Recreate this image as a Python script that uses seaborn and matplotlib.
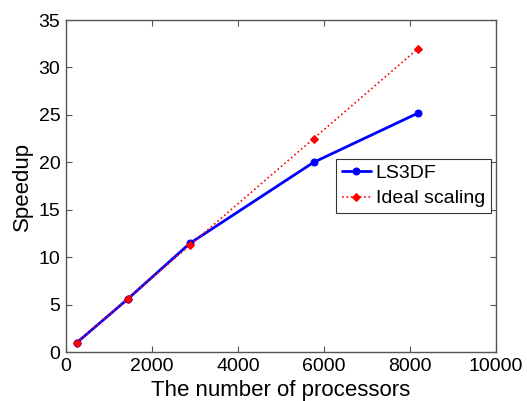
import pandas as pd
import numpy as np
import matplotlib
matplotlib.use("Agg")
import matplotlib.pyplot as plt
import seaborn as sns

# data
procs = [256, 1440, 2880, 5760, 8192]
ls3df = [1.0, 5.6, 11.45, 20.0, 25.2]
ideal = [1.0, 5.625, 11.25, 22.5, 32.0]

df = pd.DataFrame({"procs": procs, "LS3DF": ls3df, "Ideal scaling": ideal})

sns.set_style("ticks")
plt.rcParams['font.family'] = ['Liberation Sans', 'DejaVu Sans']
plt.rcParams['text.color'] = 'black'
plt.rcParams['axes.labelcolor'] = 'black'
plt.rcParams['xtick.color'] = 'black'
plt.rcParams['ytick.color'] = 'black'

fig = plt.figure(figsize=(5.27, 4.01), dpi=100)
ax = fig.add_axes([0.125, 0.122, 0.816, 0.828])

sns.lineplot(data=df, x="procs", y="LS3DF", ax=ax, color="#0000ff",
             linewidth=2, marker="o", markersize=5, markeredgecolor="#0000ff",
             label="LS3DF")
sns.lineplot(data=df, x="procs", y="Ideal scaling", ax=ax, color="#ff0000",
             linewidth=1.2, linestyle=":", marker="D", markersize=4,
             markeredgecolor="#ff0000", label="Ideal scaling")

ax.set_xlim(0, 10000)
ax.set_ylim(0, 35)
ax.set_xticks(np.arange(0, 10001, 2000))
ax.set_yticks(np.arange(0, 36, 5))
ax.set_xlabel("The number of processors", fontsize=16, labelpad=4)
ax.set_ylabel("Speedup", fontsize=16, labelpad=4)
ax.tick_params(direction="in", length=4, width=0.8, color="#555555",
               labelcolor="black", labelsize=14, top=True, right=True, pad=4)
for s in ax.spines.values():
    s.set_visible(True)
    s.set_color("#555555")
    s.set_linewidth(1)

leg = ax.legend(loc="upper right", bbox_to_anchor=(0.988, 0.583),
                fontsize=14, fancybox=False, frameon=True, framealpha=1,
                edgecolor="#333333", handlelength=1.5, handletextpad=0.25,
                borderpad=0.3, labelspacing=0.4, borderaxespad=0)
leg.get_frame().set_linewidth(0.8)

fig.savefig("out.png", dpi=100)
